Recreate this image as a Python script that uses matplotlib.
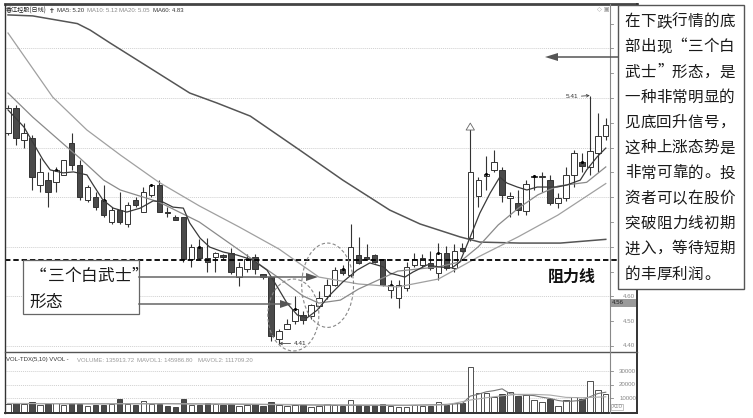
import matplotlib
matplotlib.use("Agg")
import matplotlib.pyplot as plt
from matplotlib.patches import Rectangle, Ellipse, Polygon
from matplotlib.lines import Line2D

plt.rcParams['font.family'] = ['Noto Sans CJK SC', 'DejaVu Sans']

# ---------------- data ----------------
opens = [5.26, 5.36, 5.23, 5.24, 5.05, 5.07, 5.06, 5.09, 5.22, 5.13,
         4.99, 5.00, 4.99, 4.90, 4.95, 4.89, 4.99, 4.94, 5.01, 5.05,
         4.94, 4.92, 4.92, 4.75, 4.80, 4.755, 4.76, 4.765, 4.775, 4.68,
         4.71, 4.76, 4.69, 4.68, 4.43, 4.47, 4.50, 4.525, 4.52, 4.56,
         4.60, 4.645, 4.71, 4.685, 4.765, 4.76, 4.765, 4.75, 4.625, 4.595,
         4.635, 4.725, 4.725, 4.735, 4.695, 4.775, 4.715, 4.795, 4.835, 5.005,
         5.085, 5.11, 5.11, 4.995, 4.975, 4.945, 5.08, 5.08, 5.07, 4.975,
         4.995, 5.09, 5.14, 5.12, 5.18, 5.245]
highs = [5.37, 5.37, 5.30, 5.25, 5.16, 5.10, 5.12, 5.15, 5.26, 5.15,
         5.05, 5.02, 5.05, 4.96, 5.02, 4.98, 5.00, 5.04, 5.05, 5.07,
         4.96, 4.93, 4.92, 4.81, 4.83, 4.835, 4.78, 4.77, 4.795, 4.74,
         4.77, 4.77, 4.69, 4.68, 4.47, 4.51, 4.60, 4.54, 4.57, 4.62,
         4.67, 4.72, 4.725, 4.89, 4.84, 4.81, 4.77, 4.75, 4.665, 4.665,
         4.74, 4.775, 4.77, 4.785, 4.815, 4.805, 4.81, 4.815, 5.285, 5.08,
         5.165, 5.19, 5.12, 5.02, 5.03, 5.07, 5.09, 5.10, 5.09, 5.015,
         5.12, 5.19, 5.18, 5.41, 5.34, 5.32]
lows = [5.25, 5.21, 5.20, 5.03, 5.02, 4.96, 5.02, 5.09, 5.11, 4.99,
        4.98, 4.95, 4.92, 4.89, 4.89, 4.88, 4.96, 4.94, 5.00, 4.94,
        4.92, 4.91, 4.74, 4.72, 4.75, 4.70, 4.70, 4.75, 4.69, 4.64,
        4.70, 4.69, 4.67, 4.42, 4.41, 4.47, 4.49, 4.49, 4.51, 4.555,
        4.59, 4.64, 4.685, 4.68, 4.73, 4.745, 4.735, 4.64, 4.595, 4.555,
        4.62, 4.72, 4.72, 4.705, 4.665, 4.705, 4.70, 4.78, 4.825, 4.96,
        5.03, 5.10, 4.98, 4.92, 4.93, 4.93, 5.03, 5.02, 4.97, 4.955,
        4.985, 5.04, 5.10, 5.09, 5.10, 5.23]
closes = [5.36, 5.24, 5.26, 5.08, 5.10, 5.02, 5.11, 5.15, 5.13, 5.00,
          5.04, 4.96, 4.93, 4.95, 4.90, 4.97, 4.97, 5.02, 5.05, 4.94,
          4.935, 4.91, 4.75, 4.80, 4.755, 4.74, 4.775, 4.76, 4.70, 4.72,
          4.75, 4.71, 4.68, 4.44, 4.46, 4.49, 4.55, 4.505, 4.565, 4.595,
          4.645, 4.705, 4.695, 4.80, 4.735, 4.75, 4.74, 4.645, 4.645, 4.645,
          4.72, 4.75, 4.755, 4.715, 4.775, 4.715, 4.785, 4.785, 5.10, 5.07,
          5.095, 5.14, 5.01, 5.005, 4.95, 5.055, 5.085, 5.085, 4.975, 4.995,
          5.09, 5.18, 5.125, 5.185, 5.245, 5.29]
volumes = [6000, 6500, 5500, 7000, 5000, 6000, 6500, 5000, 6500, 6000,
           4500, 5000, 5000, 5500, 9500, 5500, 5000, 8000, 6000, 6000,
           4500, 4000, 9500, 5000, 5000, 6500, 5500, 5000, 6000, 4500,
           5000, 6000, 4500, 7500, 5000, 4500, 5000, 5000, 4000, 4500,
           5500, 5000, 4500, 9000, 5000, 4500, 5000, 5500, 4500, 4000,
           4000, 5000, 4500, 4500, 7500, 5000, 6500, 6500, 33200, 14200,
           13900, 11000, 13000, 14700, 11500, 12200, 9000, 7300, 9800, 4100,
           8500, 11000, 9800, 22600, 15900, 13600]

# days carrying the small round marker
marker_days = [6, 12, 18, 24, 30, 36, 42, 48, 54, 60, 66, 72]

# moving averages read at sampled day positions
ma5_pos = [0, 2.0, 4.4, 5.3, 6.9, 8.2, 9.9, 10.7, 11.9, 13.2, 14.9, 16.6, 18.2, 19.4,
           20.7, 22.0, 22.8, 24.1, 25.3, 27.0, 28.7, 30.7, 32.5, 33.8, 35.0, 36.3,
           37.5, 38.8, 40.4, 42.0, 43.8, 45.4, 47.1, 47.9, 49.8, 50.8, 52.6, 54.0,
           55.7, 56.7, 58.0, 59.2, 60.5, 61.7, 62.6, 63.9, 65.1, 66.4, 67.6, 68.9,
           70.1, 71.8, 72.6, 73.9, 75.0]
ma5_val = [5.352, 5.283, 5.150, 5.110, 5.098, 5.102, 5.090, 5.049, 4.989, 4.956, 4.940,
           4.956, 4.985, 4.981, 4.960, 4.956, 4.896, 4.835, 4.799, 4.779, 4.767, 4.747,
           4.706, 4.638, 4.573, 4.525, 4.513, 4.545, 4.606, 4.658, 4.706, 4.735, 4.719,
           4.694, 4.678, 4.698, 4.727, 4.719, 4.715, 4.739, 4.840, 4.936, 5.017, 5.081,
           5.057, 5.041, 5.029, 5.041, 5.041, 5.041, 5.049, 5.069, 5.110, 5.162, 5.198]
ma10_pos = [0, 3.1, 7.4, 9.0, 12.0, 14.1, 18.9, 24.0, 29.0, 34.0, 37.0, 39.0, 41.7,
            44.0, 48.9, 54.0, 56.7, 59.0, 61.5, 64.0, 66.5, 69.0, 72.6, 75.0]
ma10_val = [5.420, 5.323, 5.202, 5.158, 5.069, 5.029, 4.981, 4.900, 4.787, 4.674,
            4.602, 4.573, 4.585, 4.630, 4.702, 4.719, 4.739, 4.800, 4.888, 4.955,
            5.010, 5.045, 5.060, 5.122]
ma20_pos = [0, 2.8, 5.6, 9.9, 14.1, 18.9, 24.0, 29.0, 34.0, 39.0, 44.0, 48.9, 54.0,
            59.0, 64.0, 69.0, 75.0]
ma20_val = [5.662, 5.533, 5.404, 5.271, 5.170, 5.061, 4.965, 4.880, 4.791, 4.678,
            4.650, 4.638, 4.670, 4.759, 4.840, 4.928, 5.055]
ma60_pos = [0, 3.1, 8.7, 10.3, 12.8, 18.2, 22.8, 26.2, 30.4, 36.6, 42.0, 47.9, 51.7,
            56.7, 59.2, 64.2, 69.3, 75.0]
ma60_val = [5.735, 5.731, 5.700, 5.674, 5.622, 5.513, 5.420, 5.380, 5.327, 5.190,
            5.069, 4.948, 4.892, 4.840, 4.819, 4.815, 4.815, 4.830]

mavol1_pos = [0, 10, 20, 30, 40, 50, 55, 57, 58, 59, 60, 61, 62, 63, 64, 65, 66,
              67, 68, 69, 70, 71, 72, 73, 74, 75]
mavol1_val = [6200, 6000, 6200, 5600, 5000, 4800, 5600, 6200, 11700, 13100, 14900,
              15800, 17100, 13400, 12800, 12500, 12100, 10900, 10000, 8500, 7700,
              8100, 8600, 11200, 13600, 14600]
mavol2_pos = [0, 10, 20, 30, 40, 50, 55, 58, 60, 62, 64, 66, 68, 70, 72, 75]
mavol2_val = [6300, 6100, 6000, 5800, 5300, 5000, 5200, 8800, 10500, 12000, 13000,
              13000, 12500, 10800, 10500, 11200]

# visible part of the price scale (the note box hides the upper labels)
price_ticks = [4.40, 4.50, 4.60]
price_grid = [4.40, 4.60, 4.80, 5.00, 5.20, 5.40, 5.60]
vol_ticks = [10000, 20000, 30000]
resistance = 4.747

title_name = "香江控股(日线)"
ma_labels = [("MA5: 5.20", "#333333"), ("MA10: 5.12", "#8a8a8a"),
             ("MA20: 5.05", "#8a8a8a"), ("MA60: 4.83", "#333333")]
vol_title = [("VOL-TDX(5,10) VVOL - ", "#333333"), ("VOLUME: 135913.72", "#9a9a9a"),
             ("MAVOL1: 145986.80", "#9a9a9a"), ("MAVOL2: 111709.20", "#9a9a9a")]

note_lines = ["在下跌行情的底", "部出现“三个白", "武士”形态，是", "一种非常明显的",
              "见底回升信号，", "这种上涨态势是", "非常可靠的。投", "资者可以在股价",
              "突破阻力线初期", "进入，等待短期", "的丰厚利润。"]
pattern_lines = ["“三个白武士”", "形态"]
resist_label = "阻力线"

# ---------------- layout helpers ----------------
W, H = 753, 418
fig = plt.figure(figsize=(W / 100, H / 100), dpi=100)
fig.patch.set_facecolor("white")
SMALL = "Liberation Sans"


def frect(x0, y0, x1, y1):
    return [x0 / W, 1 - y1 / H, (x1 - x0) / W, (y1 - y0) / H]


def fx(x):
    return x / W


def fy(y):
    return 1 - y / H


def fline(x0, y0, x1, y1, z=2, **kw):
    fig.add_artist(Line2D([fx(x0), fx(x1)], [fy(y0), fy(y1)],
                          transform=fig.transFigure, zorder=z, **kw))


n = len(closes)
XL = (-0.376, 75.53)
ax = fig.add_axes(frect(5, 4, 610, 352))
axv = fig.add_axes(frect(5, 352, 610, 413))
for a in (ax, axv):
    a.set_xlim(*XL)
    a.set_xticks([])
    a.set_yticks([])
    for s in a.spines.values():
        s.set_visible(False)
    a.patch.set_alpha(0)
ax.set_ylim(4.3758, 5.779)
axv.set_ylim(-800, 44400)

DARK = "#4a4a4a"
EDGE = "#333333"
bw = 0.68

# grid lines
for g in price_grid:
    ax.axhline(g, color="#d0d0d0", lw=0.7, ls=(0, (1, 1)), zorder=0)
for g in vol_ticks:
    axv.axhline(g, color="#d0d0d0", lw=0.7, ls=(0, (1, 1)), zorder=0)

# candlesticks
for i in range(n):
    o, h, l, c = opens[i], highs[i], lows[i], closes[i]
    up = c >= o
    ax.vlines(i, l, h, color=EDGE, lw=0.8, zorder=2)
    bot = min(o, c)
    ht = max(abs(c - o), 0.006)
    ax.add_patch(Rectangle((i - bw / 2, bot), bw, ht,
                           facecolor="white" if up else DARK,
                           edgecolor=EDGE, lw=0.7, zorder=3))
    axv.add_patch(Rectangle((i - bw / 2, 0), bw, volumes[i],
                            facecolor="white" if up else DARK,
                            edgecolor=EDGE, lw=0.6, zorder=3))
ax.scatter(marker_days, [max(opens[d], closes[d]) for d in marker_days],
           s=5, color="black", zorder=4, linewidths=0)

# moving averages
ax.plot(ma60_pos, ma60_val, color="#555555", lw=1.1, zorder=4)
ax.plot(ma20_pos, ma20_val, color="#a0a0a0", lw=0.9, zorder=4)
ax.plot(ma10_pos, ma10_val, color="#8a8a8a", lw=0.9, zorder=4)
ax.plot(ma5_pos, ma5_val, color="#3a3a3a", lw=0.9, zorder=4)
axv.plot(mavol1_pos, mavol1_val, color="#777777", lw=0.8, zorder=4)
axv.plot(mavol2_pos, mavol2_val, color="#aaaaaa", lw=0.8, zorder=4)

# resistance line
ax.plot([XL[0], 76.5], [resistance, resistance], color="black", lw=1.3,
        ls=(0, (3, 1.6)), zorder=5, clip_on=False)

# dashed ellipses around the three white candles
ax.add_patch(Ellipse((35.8, 4.525), 6.4, 0.29, angle=0, fill=False,
                     edgecolor="#888888", lw=0.8, ls=(0, (3, 2)), zorder=6))
ax.add_patch(Ellipse((40.1, 4.645), 6.5, 0.34, angle=0, fill=False,
                     edgecolor="#888888", lw=0.8, ls=(0, (3, 2)), zorder=6))

# high / low markers
ax.annotate("5.41", xy=(73, 5.41), xytext=(70.8, 5.405), fontsize=4.6,
            color="#333333", ha="center", va="center", family=SMALL,
            arrowprops=dict(arrowstyle="->", color="#444444", lw=0.6,
                            shrinkA=0, shrinkB=0))
ax.annotate("4.41", xy=(34, 4.41), xytext=(35.8, 4.41), fontsize=4.6,
            color="#333333", ha="left", va="center", family=SMALL,
            arrowprops=dict(arrowstyle="->", color="#444444", lw=0.6,
                            shrinkA=0, shrinkB=0))
ax.annotate("", xy=(58, 5.31), xytext=(58, 5.285),
            arrowprops=dict(arrowstyle="simple,head_width=0.6,head_length=0.5,tail_width=0.25",
                            fc="white", ec="#666666", lw=0.6))

# ---------------- frame ----------------
fline(5, 4, 637, 4, color="#444444", lw=2)
fline(5, 4, 5, 413, color="#333333", lw=1)
fline(637, 4, 637, 413, color="#333333", lw=1.4)
fline(5, 413, 637, 413, color="#333333", lw=1.4)
fline(5, 352, 637, 352, color="#555555", lw=1)
fline(610, 4, 610, 413, color="#888888", lw=0.8)

# right-hand scale
pmin, pmax = 4.3758, 5.779
for k in range(14):
    t = 4.40 + 0.1 * k
    y = 4 + (pmax - t) / (pmax - pmin) * 348
    fline(610, y, 613, y, color="#888888", lw=0.6)
for t in price_ticks:
    y = 4 + (pmax - t) / (pmax - pmin) * 348
    fig.text(fx(635), fy(y), f"{t:.2f}", fontsize=4.4, color="#888888",
             ha="right", va="center", family=SMALL)
fig.add_artist(Rectangle((fx(611), fy(307)), fx(636) - fx(611), fy(298.5) - fy(307),
                         transform=fig.transFigure, facecolor="#9a9a9a",
                         edgecolor="none", zorder=3))
fig.text(fx(612), fy(303), "4.56", fontsize=4.4, color="#222222", ha="left",
         va="center", family=SMALL, zorder=4)
vmin, vmax = -800, 44400
for t in vol_ticks:
    y = 352 + (vmax - t) / (vmax - vmin) * 61
    fline(610, y, 613, y, color="#888888", lw=0.6)
    fig.text(fx(636), fy(y), f"{t}", fontsize=4.4, color="#888888",
             ha="right", va="center", family=SMALL)
fig.text(fx(612), fy(407), "X10", fontsize=4.4, color="#888888", ha="left",
         va="center", family=SMALL,
         bbox=dict(boxstyle="square,pad=0.1", fc="white", ec="#aaaaaa", lw=0.5))

# ---------------- header texts ----------------
fig.text(fx(6), fy(11), title_name, fontsize=4.4, color="#222222", ha="left",
         va="center")
fig.text(fx(49), fy(11), "✝", fontsize=5, color="#333333", ha="left",
         va="center", family="DejaVu Sans")
xs = [57, 87, 119, 153]
for (s, col), x in zip(ma_labels, xs):
    fig.text(fx(x), fy(11), s, fontsize=4.3, color=col, ha="left", va="center",
             family=SMALL)
fig.text(fx(597), fy(10), "◇ ▣", fontsize=4.5, color="#999999", ha="left",
         va="center", family="DejaVu Sans")
xs = [6, 77, 137, 198]
for (s, col), x in zip(vol_title, xs):
    fig.text(fx(x), fy(360), s, fontsize=4.3, color=col, ha="left", va="center",
             family=SMALL)


# ---------------- annotations ----------------
def grid_text(lines, x0, y0, pitch, lead, size, weight="normal"):
    for r, line in enumerate(lines):
        y = y0 + r * lead
        for k, ch in enumerate(line):
            cx = x0 + k * pitch
            kw = dict(fontsize=size, va="center", color="#1a1a1a",
                      weight=weight, zorder=12)
            if ch == "“":
                fig.text(fx(cx + pitch - 1), fy(y), ch, ha="right", **kw)
            elif ch in "”，。":
                fig.text(fx(cx + 1), fy(y), ch, ha="left", **kw)
            else:
                fig.text(fx(cx + pitch / 2), fy(y), ch, ha="center", **kw)


# explanatory note box
fig.add_artist(Rectangle((fx(618), fy(289)), fx(744) - fx(618), fy(5) - fy(289),
                         transform=fig.transFigure, facecolor="white",
                         edgecolor="#555555", lw=1, zorder=10))
grid_text(note_lines, 624.5, 21.5, 15.75, 25.25, 11.2)

# arrow from note box
fline(557, 57, 618, 57, z=11, color="#555555", lw=1.1)
fig.add_artist(Polygon([(fx(545), fy(57)), (fx(558), fy(53)), (fx(558), fy(61))],
                       closed=True, transform=fig.transFigure,
                       facecolor="#555555", edgecolor="none", zorder=11))

# pattern label box
fig.add_artist(Rectangle((fx(23), fy(314)), fx(139) - fx(23), fy(260) - fy(314),
                         transform=fig.transFigure, facecolor="white",
                         edgecolor="#666666", lw=0.9, zorder=10))
grid_text(pattern_lines[:1], 31, 276, 16.6, 0, 12)
grid_text(pattern_lines[1:], 30, 302, 15.5, 0, 12)

for y, xtip in ((277, 318), (304, 292)):
    fline(139, y, xtip - 11, y, z=11, color="#666666", lw=1.1)
    fig.add_artist(Polygon([(fx(xtip), fy(y)), (fx(xtip - 12), fy(y - 4)),
                            (fx(xtip - 12), fy(y + 4))], closed=True,
                           transform=fig.transFigure, facecolor="#555555",
                           edgecolor="none", zorder=11))

fig.text(fx(548), fy(277), resist_label, fontsize=11.5, weight="bold",
         color="#111111", ha="left", va="center", zorder=12)

fig.savefig("out.png", dpi=100, facecolor="white")
